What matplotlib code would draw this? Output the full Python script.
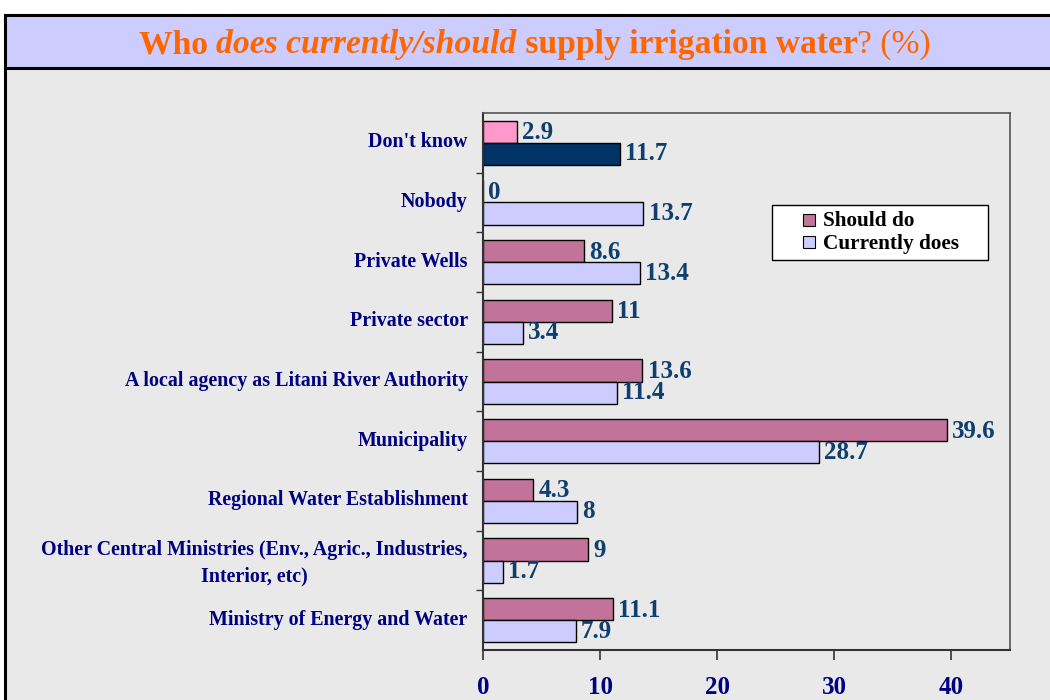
import matplotlib
matplotlib.use("Agg")
import matplotlib.pyplot as plt
from matplotlib.patches import Rectangle, Patch
from matplotlib.lines import Line2D
from matplotlib.legend_handler import HandlerPatch
from matplotlib.transforms import ScaledTranslation
import numpy as np

plt.rcParams['font.family'] = ['Liberation Serif', 'DejaVu Serif']

categories = [
    "Don't know",
    "Nobody",
    "Private Wells",
    "Private sector",
    "A local agency as Litani River Authority",
    "Municipality",
    "Regional Water Establishment",
    "Other Central Ministries (Env., Agric., Industries,\nInterior, etc)",
    "Ministry of Energy and Water",
]
should_do = [2.9, 0, 8.6, 11, 13.6, 39.6, 4.3, 9, 11.1]
currently_does = [11.7, 13.7, 13.4, 3.4, 11.4, 28.7, 8, 1.7, 7.9]
x_ticks = [0, 10, 20, 30, 40]

should_color = "#C27399"
current_color = "#CCCCFF"
dontknow_should = "#FF99CC"
dontknow_current = "#003366"
label_color = "#0F3F6E"
cat_color = "#000080"
bg_gray = "#E9E9E9"
band_color = "#CCCCFF"
title_color = "#FF6600"

W, H = 1050, 700
fig = plt.figure(figsize=(10.5, 7), dpi=100)
fig.patch.set_facecolor("white")

# panel background, title band and frame lines
fig.add_artist(Rectangle((5 / W, 0), 1, (H - 15) / H, transform=fig.transFigure,
                         facecolor=bg_gray, edgecolor="none", zorder=0))
fig.add_artist(Rectangle((5 / W, (H - 68) / H), 1, 53 / H, transform=fig.transFigure,
                         facecolor=band_color, edgecolor="none", zorder=0))
for y in [(H - 15) / H, (H - 68) / H]:
    fig.add_artist(Line2D([5 / W, 1], [y, y], transform=fig.transFigure,
                          color="black", lw=2.2, zorder=1))
fig.add_artist(Line2D([5 / W, 5 / W], [0, (H - 15) / H], transform=fig.transFigure,
                      color="black", lw=2.2, zorder=1))

ax = fig.add_axes([483 / W, 50 / H, 527 / W, 537 / H])
ax.set_facecolor(bg_gray)

n = len(categories)
ypos = np.arange(n)[::-1].astype(float)
h = 0.37

s_colors = [dontknow_should] + [should_color] * (n - 1)
c_colors = [dontknow_current] + [current_color] * (n - 1)

ax.barh(ypos + h / 2, should_do, height=h, color=s_colors, edgecolor="black",
        linewidth=1.0, zorder=2)
ax.barh(ypos - h / 2, currently_does, height=h, color=c_colors, edgecolor="black",
        linewidth=1.0, zorder=2)

for y, v in zip(ypos, should_do):
    ax.text(v + 0.45, y + h / 2 - 0.02, f"{v:g}", va="center", ha="left",
            fontsize=18, fontweight="bold", color=label_color, zorder=1)
for y, v in zip(ypos, currently_does):
    ax.text(v + 0.45, y - h / 2, f"{v:g}", va="center", ha="left",
            fontsize=18, fontweight="bold", color=label_color, zorder=3)

ax.set_xlim(0, 45)
ax.set_ylim(-0.5, n - 0.5)

ax.set_xticks(x_ticks)
ax.set_xticklabels([str(t) for t in x_ticks], fontsize=18, fontweight="bold", color=cat_color)
ax.tick_params(axis="x", direction="out", length=7, width=1.2, pad=12, color="#333333")

ax.set_yticks(ypos)
ax.set_yticklabels(categories, fontsize=14.4, fontweight="bold", color=cat_color,
                   multialignment="center", linespacing=1.45)
ax.tick_params(axis="y", which="major", length=0, pad=11)
lift = ScaledTranslation(0, 3 / 100, fig.dpi_scale_trans)
for lbl in ax.get_yticklabels():
    lbl.set_transform(lbl.get_transform() + lift)
ax.set_yticks(np.arange(0.5, n - 0.5, 1.0), minor=True)
ax.tick_params(axis="y", which="minor", direction="out", length=5, width=1, color="#333333")

for side in ["top", "right"]:
    ax.spines[side].set_color("#555555")
    ax.spines[side].set_linewidth(1.2)
for side in ["left", "bottom"]:
    ax.spines[side].set_color("#333333")
    ax.spines[side].set_linewidth(1.5)


def right_square(legend, orig_handle, xdescent, ydescent, width, height, fontsize):
    s = 8.8
    return Rectangle((-xdescent + width - s, -ydescent + (height - s) / 2 - 0.5), s, s)


handles = [Patch(facecolor=should_color, edgecolor="black", linewidth=0.8, label="Should do"),
           Patch(facecolor=current_color, edgecolor="black", linewidth=0.8, label="Currently does")]
leg_x0 = (772 - 483) / 527
leg_w = (988 - 772) / 527
leg_top = (650 - 205) / 537
leg_h = 53 / 537
leg = ax.legend(handles=handles, loc="upper left",
                bbox_to_anchor=(leg_x0, leg_top - leg_h, leg_w, leg_h), mode="expand",
                frameon=True, fancybox=False, framealpha=1, edgecolor="black",
                prop={"weight": "bold", "size": 15.3}, handlelength=1.72, handleheight=0.7,
                handletextpad=0.36, borderpad=0.3, labelspacing=0.12, borderaxespad=0,
                handler_map={Patch: HandlerPatch(patch_func=right_square)})
leg.get_frame().set_linewidth(1.0)

# multi-style title assembled piece by piece, centred on the band
pieces = [("Who ", "bold", "normal"),
          ("does currently/should", "bold", "italic"),
          (" supply irrigation water", "bold", "normal"),
          ("? (%)", "normal", "normal")]
title_y = (H - 45) / H
texts = [fig.text(0, title_y, s, fontsize=24.2, fontweight=w, fontstyle=st,
                  color=title_color, va="center", ha="left") for s, w, st in pieces]
renderer = fig.canvas.get_renderer()
widths = [t.get_window_extent(renderer).width for t in texts]
x = (535 - sum(widths) / 2)
for t, wpx in zip(texts, widths):
    t.set_x(x / W)
    x += wpx

fig.savefig("out.png", dpi=100)
